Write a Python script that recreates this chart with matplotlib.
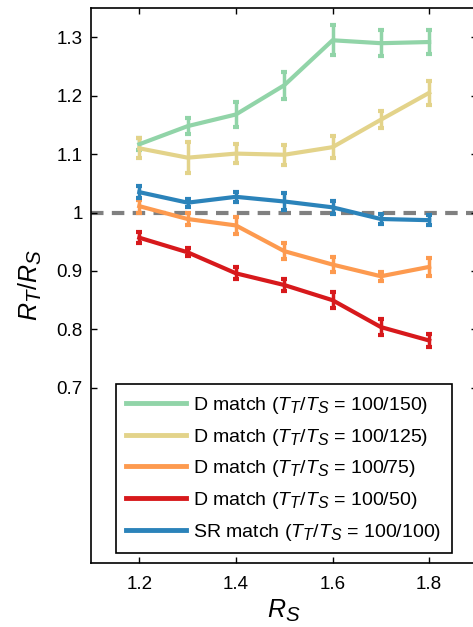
import matplotlib
matplotlib.use('Agg')
import matplotlib.pyplot as plt
from matplotlib.lines import Line2D
import matplotlib._mathtext as _mt

# larger sub/superscripts, closer to the reference's look
if hasattr(_mt, 'SHRINK_FACTOR'):
    _mt.SHRINK_FACTOR = 0.82

plt.rcParams['font.family'] = ['Liberation Sans', 'DejaVu Sans']
plt.rcParams['mathtext.fontset'] = 'custom'
plt.rcParams['mathtext.rm'] = 'Liberation Sans'
plt.rcParams['mathtext.it'] = 'Liberation Sans:italic'

# ── Data ──────────────────────────────────────────────────────────────────────
rs = [1.2, 1.3, 1.4, 1.5, 1.6, 1.7, 1.8]

d150 = [1.117, 1.148, 1.168, 1.218, 1.295, 1.290, 1.292]
d150_err = [0.010, 0.014, 0.021, 0.023, 0.026, 0.022, 0.020]

d125 = [1.110, 1.094, 1.101, 1.099, 1.112, 1.159, 1.205]
d125_err = [0.017, 0.026, 0.016, 0.017, 0.019, 0.015, 0.020]

d75 = [1.011, 0.989, 0.978, 0.934, 0.911, 0.891, 0.907]
d75_err = [0.011, 0.011, 0.014, 0.014, 0.013, 0.008, 0.015]

d50 = [0.957, 0.932, 0.896, 0.876, 0.850, 0.804, 0.781]
d50_err = [0.009, 0.007, 0.010, 0.011, 0.014, 0.014, 0.011]

sr100 = [1.035, 1.017, 1.027, 1.019, 1.009, 0.989, 0.987]
sr100_err = [0.010, 0.007, 0.009, 0.014, 0.011, 0.008, 0.009]

series = [
    (d150, d150_err, '#91d4a8', r'D match ($T_T/T_S$ = 100/150)'),
    (d125, d125_err, '#e3d38a', r'D match ($T_T/T_S$ = 100/125)'),
    (d75, d75_err, '#fd9a4f', r'D match ($T_T/T_S$ = 100/75)'),
    (d50, d50_err, '#d7191c', r'D match ($T_T/T_S$ = 100/50)'),
    (sr100, sr100_err, '#2b83ba', r'SR match ($T_T/T_S$ = 100/100)'),
]

# ── Plot ──────────────────────────────────────────────────────────────────────
fig = plt.figure(figsize=(4.73, 6.27), dpi=100)
ax = fig.add_axes([0.1924, 0.102, 0.817, 0.885])

ax.axhline(1.0, color='#808080', lw=3, ls=(0, (3, 2)), zorder=1)

for vals, err, col, lab in series:
    ax.errorbar(rs, vals, yerr=err, color=col, lw=3, elinewidth=2.5,
                capsize=2.2, capthick=3, label=lab, zorder=2)

ax.set_xlim(1.1, 1.9)
ax.set_ylim(0.4, 1.35)
ax.set_xticks([1.2, 1.4, 1.6, 1.8])
ax.set_xticklabels(['1.2', '1.4', '1.6', '1.8'])
ax.set_yticks([0.7, 0.8, 0.9, 1.0, 1.1, 1.2, 1.3])
ax.set_yticklabels(['0.7', '0.8', '0.9', '1', '1.1', '1.2', '1.3'])
ax.tick_params(direction='in', length=4, width=1, labelsize=13.5,
               top=True, right=True, pad=6)
ax.tick_params(axis='x', pad=9)
for s in ax.spines.values():
    s.set_linewidth(1.2)

ax.set_xlabel(r'$R_S$', fontsize=18, labelpad=4)
ax.set_ylabel(r'$R_T/R_S$', fontsize=18, labelpad=9)

labels = [lab for _, _, _, lab in series]
proxies = [Line2D([], [], color=c, lw=3.5) for _, _, c, _ in series]
leg = ax.legend(proxies, labels, loc='lower left', bbox_to_anchor=(0.064, 0.0175),
                borderaxespad=0, fontsize=14, handlelength=3.05, handletextpad=0.36,
                labelspacing=0.55, fancybox=False, framealpha=1,
                edgecolor='black', borderpad=0.55)
leg.get_frame().set_linewidth(1.2)

fig.savefig('out.png', dpi=100, facecolor='white')
